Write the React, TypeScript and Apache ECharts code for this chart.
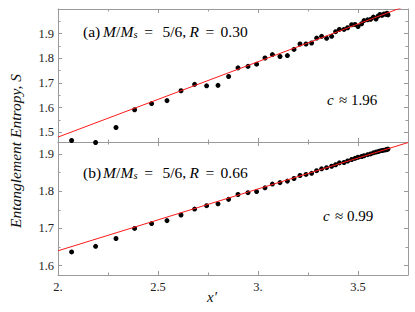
import React, { useEffect, useRef } from 'react';
import * as echarts from 'echarts';

const X_PRIME = [2.068, 2.188, 2.29, 2.383, 2.468, 2.545, 2.615, 2.683, 2.743, 2.8, 2.853, 2.9, 2.95, 2.993, 3.035, 3.072, 3.11, 3.147, 3.18, 3.21, 3.24, 3.268, 3.293, 3.318, 3.343, 3.368, 3.388, 3.407, 3.43, 3.448, 3.468, 3.485, 3.5, 3.518, 3.53, 3.548, 3.563, 3.577, 3.59, 3.6, 3.61, 3.62, 3.63, 3.64, 3.645, 3.65];
const ENTROPY_A = [1.466, 1.458, 1.519, 1.591, 1.616, 1.628, 1.668, 1.694, 1.688, 1.69, 1.726, 1.761, 1.767, 1.776, 1.801, 1.815, 1.807, 1.811, 1.836, 1.858, 1.858, 1.862, 1.882, 1.889, 1.881, 1.889, 1.908, 1.917, 1.917, 1.924, 1.936, 1.937, 1.929, 1.94, 1.953, 1.956, 1.958, 1.967, 1.959, 1.971, 1.978, 1.974, 1.98, 1.978, 1.983, 1.976];
const ENTROPY_B = [1.637, 1.652, 1.673, 1.7, 1.713, 1.721, 1.736, 1.752, 1.761, 1.766, 1.778, 1.791, 1.796, 1.799, 1.809, 1.819, 1.823, 1.827, 1.834, 1.842, 1.845, 1.848, 1.855, 1.86, 1.863, 1.867, 1.871, 1.876, 1.877, 1.881, 1.885, 1.888, 1.891, 1.893, 1.895, 1.898, 1.9, 1.903, 1.905, 1.906, 1.908, 1.909, 1.91, 1.911, 1.912, 1.913];
const FIT_A = [[2.0, 1.48], [3.75, 2.0155]];
const FIT_B = [[2.0, 1.64], [3.75, 1.9305]];

const X_RANGE = [2.0, 3.75];
const Y_RANGE_A = [1.46, 2.0];
const Y_RANGE_B = [1.575, 1.932];
const X_MAJOR = [2.0, 2.5, 3.0, 3.5];
const X_MINOR = [2.25, 2.75, 3.25];
const Y_MAJOR_A = [1.5, 1.6, 1.7, 1.8, 1.9];
const Y_MINOR_A = [1.5, 1.55, 1.6, 1.65, 1.7, 1.75, 1.8, 1.85, 1.9, 1.95];
const Y_MAJOR_B = [1.6, 1.7, 1.8, 1.9];
const Y_MINOR_B = [1.6, 1.65, 1.7, 1.75, 1.8, 1.85, 1.9];

const SERIF = 'Liberation Serif';
const AXIS_COLOR = '#9a9a9a';

function xAxes(gridIndex: number, labels: boolean) {
  const mk = (position: string, values: number[], len: number, showLine: boolean, showLabel: boolean) => ({
    type: 'value', gridIndex, position, min: X_RANGE[0], max: X_RANGE[1],
    axisLine: { show: showLine, onZero: false, lineStyle: { color: AXIS_COLOR, width: 1 } },
    axisTick: { show: true, inside: true, length: len, customValues: values, lineStyle: { color: AXIS_COLOR } },
    axisLabel: {
      show: showLabel, customValues: X_MAJOR, margin: 5, color: '#222', fontSize: 12.5, fontFamily: SERIF,
      formatter: (v: number) => (Math.abs(v - Math.round(v)) < 1e-9 ? `${Math.round(v)}.` : String(v)),
    },
    splitLine: { show: false },
  });
  return [
    mk('bottom', X_MAJOR, 4, true, labels),
    mk('bottom', X_MINOR, 2.5, false, false),
    mk('top', X_MAJOR, 4, true, false),
    mk('top', X_MINOR, 2.5, false, false),
  ];
}

function yAxes(gridIndex: number, range: number[], major: number[], minor: number[]) {
  const mk = (position: string, values: number[], len: number, showLine: boolean, showLabel: boolean) => ({
    type: 'value', gridIndex, position, min: range[0], max: range[1],
    axisLine: { show: showLine, onZero: false, lineStyle: { color: AXIS_COLOR, width: 1 } },
    axisTick: { show: true, inside: true, length: len, customValues: values, lineStyle: { color: AXIS_COLOR } },
    axisLabel: {
      show: showLabel, customValues: major, margin: 4, color: '#222', fontSize: 12.5, fontFamily: SERIF,
      formatter: (v: number) => v.toFixed(1),
    },
    splitLine: { show: false },
  });
  return [
    mk('left', major, 4, true, true),
    mk('left', minor, 2.5, false, false),
    mk('right', major, 4, true, false),
    mk('right', minor, 2.5, false, false),
  ];
}

function panelText(tag: string, r: string) {
  return `{p|(${tag})}{m|M}{sl|/}{m|M}{s|s}{eq|=}{fr|5/6,}{r|R}{eq|=}{u|${r}}`;
}

const FS = 15.5;
const base = { fontFamily: SERIF, fontSize: FS, color: '#111' };
const ital = { ...base, fontStyle: 'italic' };
const RICH = {
  u: base,
  p: { ...base, width: 20, align: 'left' },
  m: { ...ital, width: 12.9, align: 'left' },
  sl: { ...base, width: 4.6, align: 'center' },
  s: { ...ital, fontSize: 10.5, width: 4.5, align: 'left', padding: [7, 0, 0, 0] },
  eq: { ...base, width: 21.4, align: 'center' },
  fr: { ...base, width: 30, align: 'left' },
  r: { ...ital, width: 9.8, align: 'left' },
};
const RICH_C = {
  u: { ...base, fontSize: 15 },
  c: { ...ital, fontSize: 15, width: 8, align: 'left' },
  ap: { ...base, fontSize: 15, width: 16, align: 'center' },
};

export default function App() {
  const ref = useRef<HTMLDivElement>(null);
  useEffect(() => {
    if (!ref.current) return;
    const chart = echarts.init(ref.current, undefined, { renderer: 'svg' });
    const ptsA = X_PRIME.map((x, i) => [x, ENTROPY_A[i]]);
    const ptsB = X_PRIME.map((x, i) => [x, ENTROPY_B[i]]);
    chart.setOption({
      animation: false,
      backgroundColor: '#fff',
      grid: [
        { left: 58, top: 9, width: 350, height: 133, outerBoundsMode: 'none', containLabel: false },
        { left: 58, top: 142, width: 350, height: 133, outerBoundsMode: 'none', containLabel: false },
      ],
      xAxis: [...xAxes(0, false), ...xAxes(1, true)],
      yAxis: [
        ...yAxes(0, Y_RANGE_A, Y_MAJOR_A, Y_MINOR_A),
        ...yAxes(1, Y_RANGE_B, Y_MAJOR_B, Y_MINOR_B),
      ],
      series: [
        { type: 'scatter', xAxisIndex: 0, yAxisIndex: 0, data: ptsA, symbolSize: 5, clip: false,
          itemStyle: { color: '#000', opacity: 1 }, z: 2 },
        { type: 'line', xAxisIndex: 0, yAxisIndex: 0, data: FIT_A, symbol: 'none', clip: true,
          lineStyle: { color: '#ff1a1a', width: 1 }, z: 3 },
        { type: 'scatter', xAxisIndex: 4, yAxisIndex: 4, data: ptsB, symbolSize: 5, clip: false,
          itemStyle: { color: '#000', opacity: 1 }, z: 2 },
        { type: 'line', xAxisIndex: 4, yAxisIndex: 4, data: FIT_B, symbol: 'none', clip: true,
          lineStyle: { color: '#ff1a1a', width: 1 }, z: 3 },
      ],
      graphic: [
        { type: 'text', left: 83, top: 23, style: { text: panelText('a', '0.30'), rich: RICH } },
        { type: 'text', left: 83, top: 164, style: { text: panelText('b', '0.66'), rich: RICH } },
        { type: 'text', left: 327, top: 92, style: { text: '{c|c}{ap|≈}{u|1.96}', rich: RICH_C } },
        { type: 'text', left: 323, top: 208, style: { text: '{c|c}{ap|≈}{u|0.99}', rich: RICH_C } },
        { type: 'text', x: 15, y: 151, rotation: Math.PI / 2,
          style: { text: 'Entanglement Entropy, S', fontFamily: SERIF, fontSize: 15.5, fontStyle: 'italic', fill: '#111', align: 'center', verticalAlign: 'middle' } },
        { type: 'text', x: 212, y: 297,
          style: { text: 'x′', fontFamily: SERIF, fontSize: 15, fontStyle: 'italic', fill: '#111', align: 'center', verticalAlign: 'middle' } },
      ],
    });
    return () => chart.dispose();
  }, []);
  return <div ref={ref} style={{ position: 'fixed', left: 0, top: 0, width: 415, height: 312 }} />;
}
